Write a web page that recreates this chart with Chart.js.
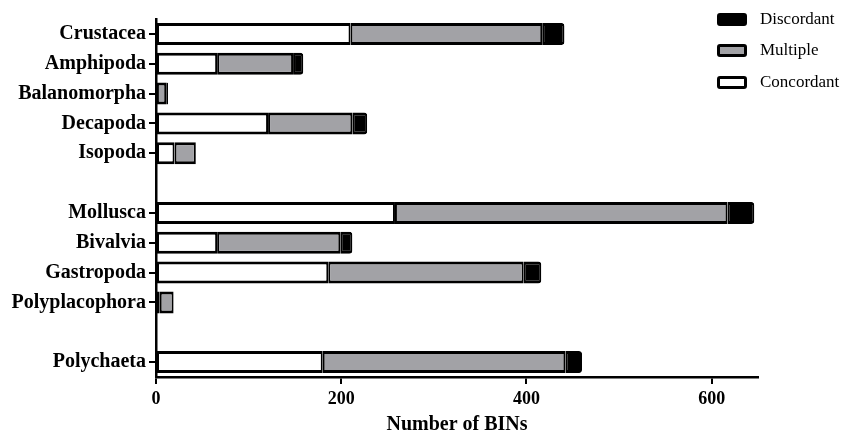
<!DOCTYPE html>
<html>
<head>
<meta charset="utf-8">
<script src="https://cdn.jsdelivr.net/npm/chart.js@4.4.0/dist/chart.umd.min.js"></script>
<style>
  html, body { margin: 0; padding: 0; background: #fff; }
  #wrap { position: relative; width: 841px; height: 437px; }
  #legend { position: absolute; left: 717px; top: 0; font-family: "Liberation Serif", serif; font-size: 17px; color: #000; }
  .item { position: absolute; left: 0; height: 20px; white-space: nowrap; }
  .box { position: absolute; left: 0; top: 4px; width: 24px; height: 7px; border: 3px solid #000; border-radius: 3px; }
  .lbl { position: absolute; left: 43px; top: 0; line-height: 20px; }
</style>
</head>
<body>
<div id="wrap">
  <canvas id="bins" width="841" height="437"></canvas>
  <div id="legend"></div>
</div>
<script>
const categories = ["Crustacea", "Amphipoda", "Balanomorpha", "Decapoda", "Isopoda", "",
    "Mollusca", "Bivalvia", "Gastropoda", "Polyplacophora", "", "Polychaeta"];
const concordant = [210, 66, 1, 121, 20, 0, 258, 66, 186, 4, 0, 180];
const multiple = [207, 82, 10, 91, 23, 0, 359, 133, 211, 15, 0, 262];
const discordant = [24, 11, 2, 16, 0, 0, 29, 13, 19, 0, 0, 18];
const xTicks = [0, 200, 400, 600];

const grey = "#a2a2a6";

function seg(label, data, color) {
    return {
        label: label,
        data: data,
        backgroundColor: color,
        borderColor: "#000",
        borderWidth: { top: 3, bottom: 3, left: 2, right: 2 },
        borderSkipped: false,
        barPercentage: 0.74,
        categoryPercentage: 1.0
    };
}

const datasets = [
    seg("Concordant", concordant, "#fff"),
    seg("Multiple", multiple, grey),
    seg("Discordant", discordant, "#000")
];
datasets[2].borderRadius = { topRight: 3, bottomRight: 3 };

new Chart(document.getElementById("bins"), {
    type: "bar",
    data: { labels: categories, datasets: datasets },
    options: {
        indexAxis: "y",
        responsive: false,
        animation: false,
        layout: { padding: { top: 19, right: 83, left: 0, bottom: 0 } },
        plugins: { legend: { display: false }, tooltip: { enabled: false } },
        scales: {
            x: {
                stacked: true,
                min: 0,
                max: 650,
                afterFit: function(s) { s.height = 60; },
                afterBuildTicks: function(s) { s.ticks = xTicks.map(v => ({ value: v })); },
                border: { color: "#000", width: 2.5 },
                grid: { drawOnChartArea: false, drawTicks: true, tickLength: 7, color: "#000", lineWidth: 2 },
                ticks: { color: "#000", padding: 5, font: { family: "Liberation Serif", size: 18, weight: "bold" } },
                title: {
                    display: true,
                    text: "Number of BINs",
                    color: "#000",
                    padding: { top: 0, bottom: 0 },
                    font: { family: "Liberation Serif", size: 20, weight: "bold" }
                }
            },
            y: {
                stacked: true,
                afterFit: function(s) { s.width = 156; },
                border: { color: "#000", width: 2.5 },
                grid: {
                    offset: false,
                    drawOnChartArea: false,
                    drawTicks: true,
                    tickLength: 7,
                    lineWidth: 2,
                    color: function(ctx) {
                        return categories[ctx.index] ? "#000" : "rgba(0,0,0,0)";
                    }
                },
                ticks: { color: "#000", padding: 3, autoSkip: false, font: { family: "Liberation Serif", size: 20, weight: "bold" } }
            }
        }
    }
});

// legend, reversed order like the original
const legend = document.getElementById("legend");
const legendTops = [9, 40, 72];
datasets.slice().reverse().forEach(function(ds, i) {
    const item = document.createElement("div");
    item.className = "item";
    item.style.top = legendTops[i] + "px";
    item.innerHTML = '<div class="box" style="background:' + ds.backgroundColor + '"></div><div class="lbl">' + ds.label + '</div>';
    legend.appendChild(item);
});
</script>
</body>
</html>
